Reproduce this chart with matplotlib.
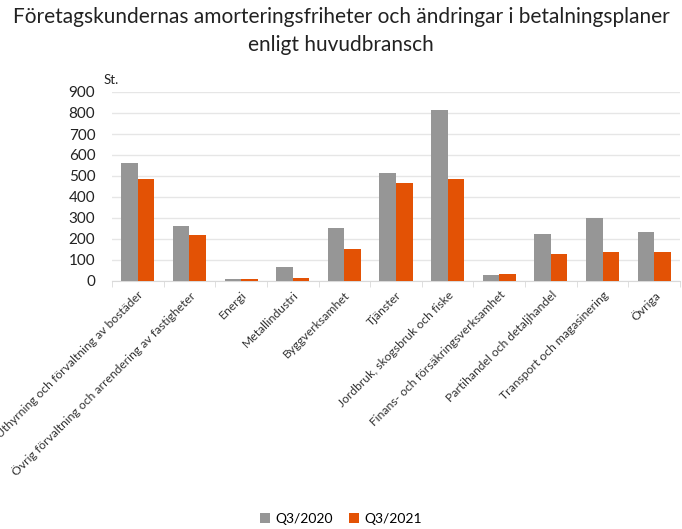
import matplotlib.pyplot as plt
import numpy as np

plt.rcParams['font.family'] = ['Lato', 'DejaVu Sans']

categories = ['Uthyrning och förvaltning av bostäder',
              'Övrig förvaltning och arrendering av fastigheter',
              'Energi', 'Metallindustri', 'Byggverksamhet', 'Tjänster',
              'Jordbruk, skogsbruk och fiske',
              'Finans- och försäkringsverksamhet',
              'Partihandel och detaljhandel',
              'Transport och magasinering', 'Övriga']
q3_2020 = [560, 263, 11, 69, 251, 512, 815, 29, 223, 300, 235]
q3_2021 = [488, 220, 8, 16, 152, 467, 486, 35, 129, 140, 137]

grey = '#969696'
orange = '#e35205'

fig = plt.figure(figsize=(6.82, 5.29), dpi=100)
ax = fig.add_axes([112/682, 1-281/529, 568/682, 189/529])

x = np.arange(len(categories))
w = 0.32
ax.bar(x - w/2, q3_2020, w, color=grey, label='Q3/2020', zorder=3)
ax.bar(x + w/2, q3_2021, w, color=orange, label='Q3/2021', zorder=3)

ax.set_xlim(-0.5, len(categories) - 0.5)
ax.set_ylim(0, 900)
ax.set_yticks(range(0, 901, 100))
ax.tick_params(axis='y', length=0, labelsize=11, colors='#222222', pad=12)
ax.grid(axis='y', color='#e6e6e6', lw=1, zorder=0)

ax.set_xticks(x)
ax.set_xticklabels(categories, rotation=45, ha='right', rotation_mode='anchor',
                   fontsize=8.7, color='#333333')
ax.tick_params(axis='x', length=0, pad=6)
ax.set_xticks(np.arange(-0.5, len(categories)), minor=True)
ax.tick_params(axis='x', which='minor', length=4, color='#d9d9d9')

for s in ['top', 'right', 'left']:
    ax.spines[s].set_visible(False)
ax.spines['bottom'].set_color('#d9d9d9')

fig.text(104/682, 1-80/529, 'St.', fontsize=9.5, color='#222222', va='center')
fig.text(0.5, 1-17/529, 'Företagskundernas amorteringsfriheter och ändringar i betalningsplaner',
         ha='center', va='center', fontsize=15, color='#222222')
fig.text(0.5, 1-45/529, 'enligt huvudbransch', ha='center', va='center',
         fontsize=15, color='#222222')

fig.legend(loc='center', bbox_to_anchor=(0.5, 1-519/529), ncol=2, frameon=False,
           fontsize=10, handlelength=0.7, handleheight=0.7, handletextpad=0.4,
           columnspacing=1.2)

fig.savefig('out.png', dpi=100)
